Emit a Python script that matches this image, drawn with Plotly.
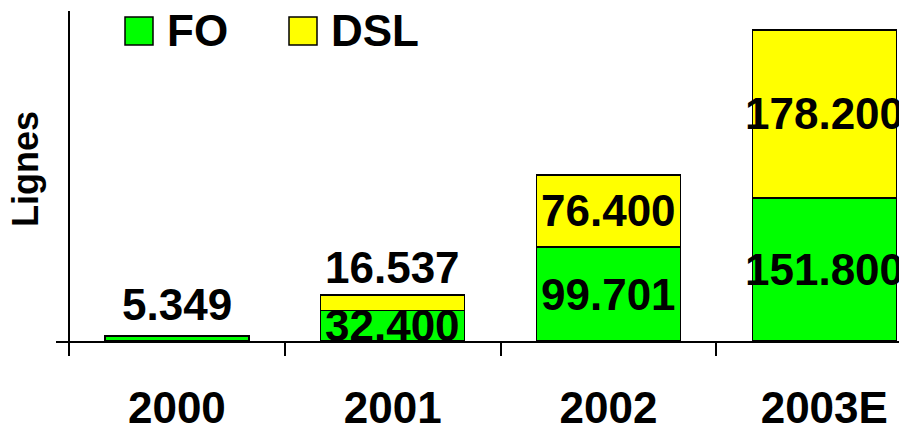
import plotly.graph_objects as go

# Data
years = ["2000", "2001", "2002", "2003E"]
fo_values = [5.349, 32.400, 99.701, 151.800]
dsl_values = [0.0, 16.537, 76.400, 178.200]
fo_labels = ["5.349", "32.400", "99.701", "151.800"]
dsl_labels = ["", "16.537", "76.400", "178.200"]

GREEN = "#00FF00"
YELLOW = "#FFFF00"
FONT = "Liberation Sans, Arial, sans-serif"

W, H = 899, 425
ML, MR, MT, MB = 56, 0, 11, 84
PW, PH = W - ML - MR, H - MT - MB


def px_x(x):
    return (x - ML) / PW


def px_y(y):
    return 1 - (y - MT) / PH


fig = go.Figure()
fig.add_trace(go.Bar(
    x=years, y=fo_values, name="FO", width=0.667,
    marker=dict(color=GREEN, line=dict(color="black", width=1.5)),
))
fig.add_trace(go.Bar(
    x=years, y=dsl_values, name="DSL", width=0.667,
    marker=dict(color=YELLOW, line=dict(color="black", width=1.5)),
))

label_font = dict(family=FONT, size=44, color="black", weight="bold")
annotations = []
for i in range(len(years)):
    fo, dsl = fo_values[i], dsl_values[i]
    # category index as x so numeric-looking year names are not misread
    if dsl == 0:
        # single small bar: value above it
        annotations.append(dict(x=i, y=fo, text=fo_labels[i], showarrow=False,
                                yanchor="bottom", yshift=5, font=label_font))
        continue
    annotations.append(dict(x=i, y=fo / 2, text=fo_labels[i], showarrow=False,
                            yanchor="middle", font=label_font))
    if dsl < 30:
        annotations.append(dict(x=i, y=fo + dsl, text=dsl_labels[i], showarrow=False,
                                yanchor="bottom", yshift=1, font=label_font))
    else:
        annotations.append(dict(x=i, y=fo + dsl / 2, text=dsl_labels[i], showarrow=False,
                                yanchor="middle", font=label_font))

# Legend drawn by hand (large swatches)
shapes = []
legend_items = [("FO", GREEN, 125, 168), ("DSL", YELLOW, 289, 332)]
for name, color, sx, tx in legend_items:
    shapes.append(dict(type="rect", xref="paper", yref="paper",
                       x0=px_x(sx), x1=px_x(sx + 28), y0=px_y(45), y1=px_y(17),
                       fillcolor=color, line=dict(color="black", width=1.5)))
    annotations.append(dict(xref="paper", yref="paper", x=px_x(tx - 3), y=px_y(31),
                            xanchor="left", yanchor="middle", text=name, showarrow=False,
                            font=label_font))

# Axis title
annotations.append(dict(xref="paper", yref="paper", x=px_x(25), y=px_y(169),
                        xanchor="center", yanchor="middle", textangle=-90,
                        text="Lignes", showarrow=False,
                        font=dict(family=FONT, size=36, color="black", weight="bold")))

fig.update_layout(
    width=W, height=H,
    margin=dict(l=ML, r=MR, t=MT, b=MB, autoexpand=False),
    barmode="stack",
    showlegend=False,
    paper_bgcolor="white",
    plot_bgcolor="white",
    annotations=annotations,
    shapes=shapes,
    xaxis=dict(
        type="category",
        range=[-0.5602, 3.3462],
        automargin=False,
        tickson="boundaries",
        ticks="outside", ticklen=13, tickwidth=1.5, tickcolor="black",
        ticklabelstandoff=27,
        showline=True, linecolor="black", linewidth=1.5,
        showgrid=False, zeroline=False,
        tickfont=dict(family=FONT, size=44, color="black", weight="bold"),
    ),
    yaxis=dict(
        range=[0, 350],
        anchor="free", position=13 / PW,
        automargin=False,
        showline=True, linecolor="black", linewidth=1.5,
        showticklabels=False, ticks="", showgrid=False, zeroline=False,
    ),
)

fig.write_html("out.html")
